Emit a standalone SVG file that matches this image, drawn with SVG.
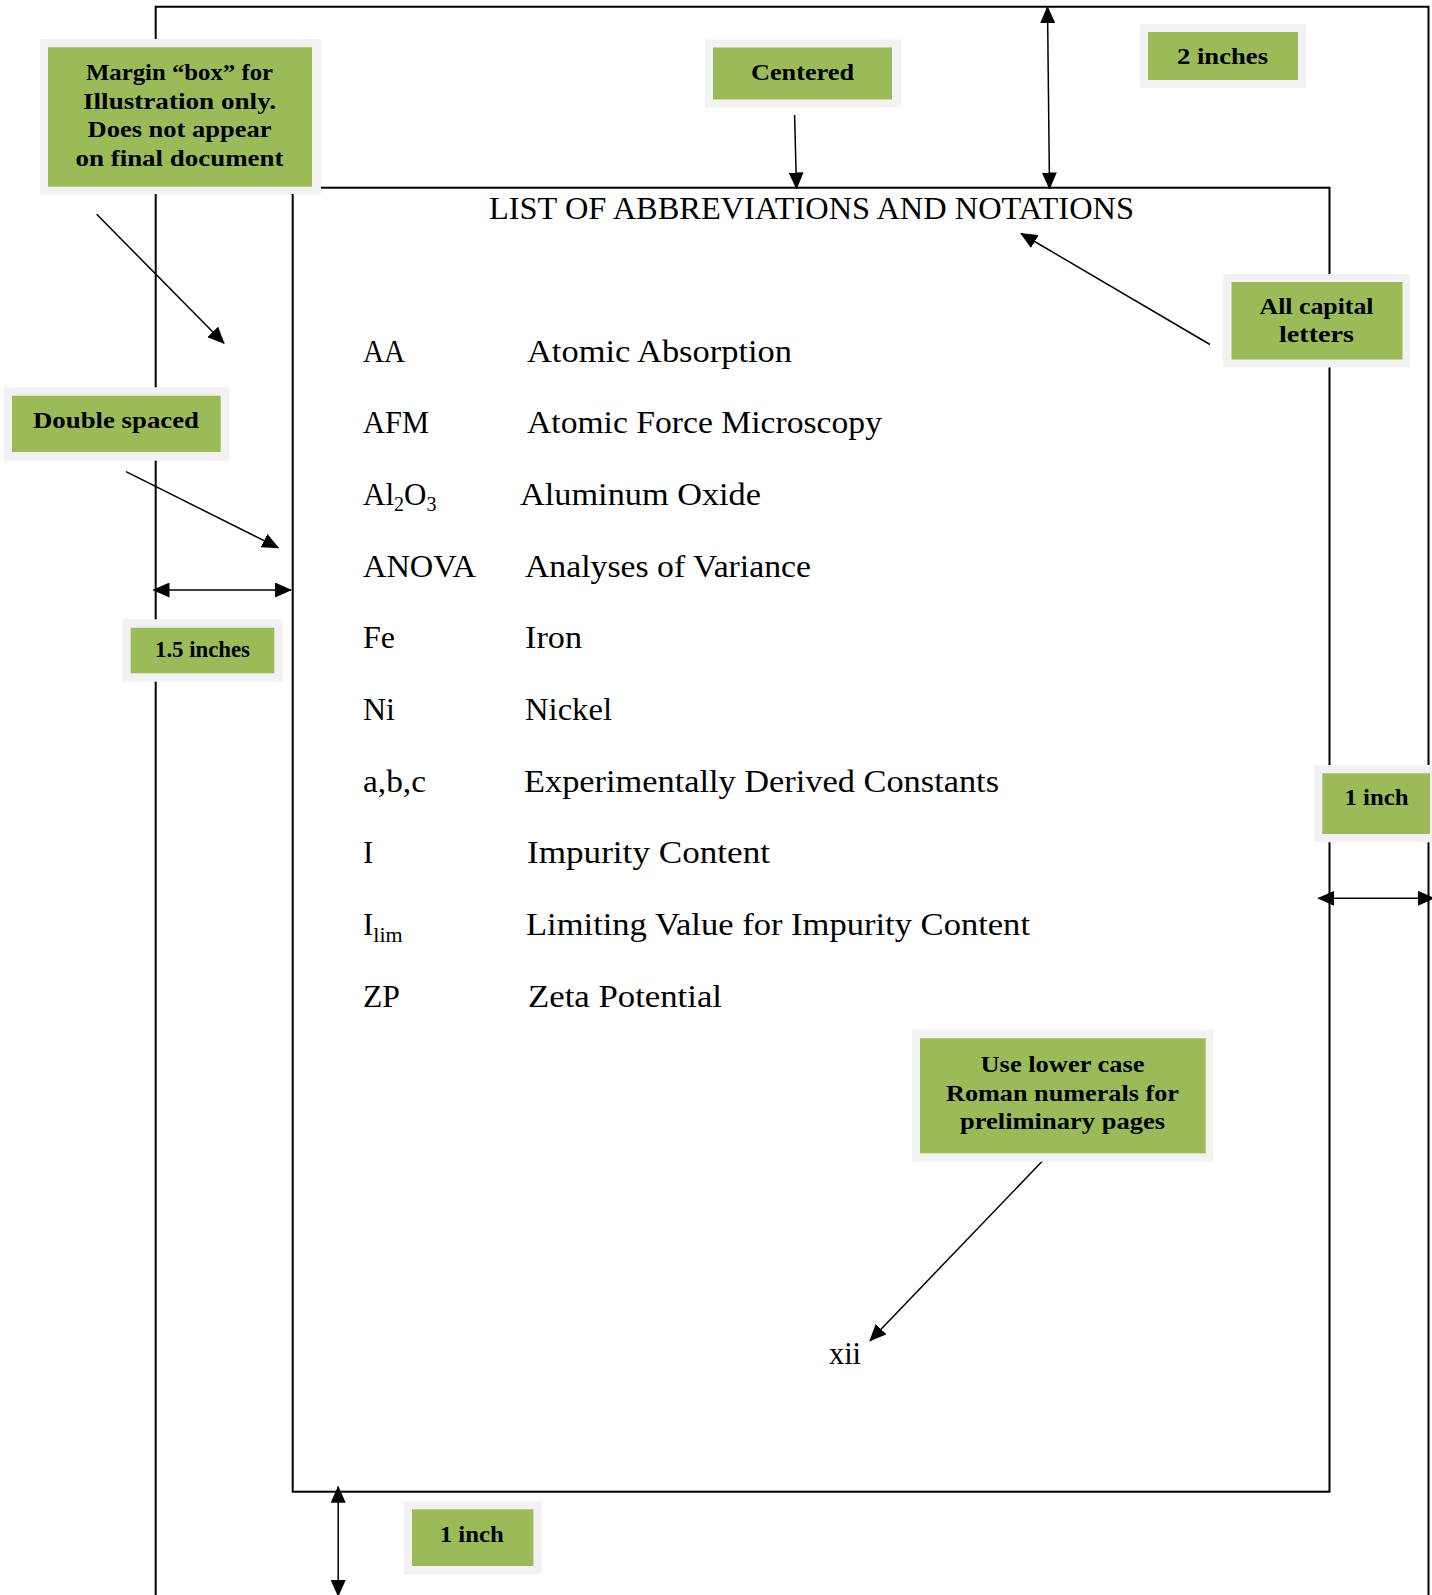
<svg xmlns="http://www.w3.org/2000/svg" width="1432" height="1595" viewBox="0 0 1432 1595">
<style>
.page{fill:none;stroke:#000;stroke-width:2}
.conn{fill:none;stroke:#000;stroke-width:1.5}
.halo{fill:#f2f2f2}
.box{fill:#9bbb59}
.lbl{font-family:"Liberation Serif",serif;font-weight:bold;font-size:24px;fill:#000;text-anchor:middle}
.body{font-family:"Liberation Serif",serif;font-size:31px;fill:#000}
</style>
<defs>
<marker id="ah" viewBox="0 0 17 15" refX="16" refY="7.5" markerWidth="17" markerHeight="15" markerUnits="userSpaceOnUse" orient="auto-start-reverse">
<path d="M0,0 L17,7.5 L0,15 Z" fill="#000"/>
</marker>
</defs>
<rect width="1432" height="1595" fill="#fff"/>
<g id="page-lines">
<path class="page" d="M155.7,1595 V6.7 H1428.5 V1595"/>
<rect class="page" x="292.7" y="187.7" width="1036.8" height="1304"/>
</g>
<g id="page-content">
<text class="body" x="489" y="219.3" font-size="32" textLength="645" lengthAdjust="spacingAndGlyphs">LIST OF ABBREVIATIONS AND NOTATIONS</text>
<text class="body" x="363" y="361.7" textLength="42" lengthAdjust="spacingAndGlyphs">AA</text>
<text class="body" x="527" y="361.7" textLength="265" lengthAdjust="spacingAndGlyphs">Atomic Absorption</text>
<text class="body" x="363" y="433.4" textLength="66" lengthAdjust="spacingAndGlyphs">AFM</text>
<text class="body" x="527" y="433.4" textLength="355" lengthAdjust="spacingAndGlyphs">Atomic Force Microscopy</text>
<text class="body" x="363" y="505">Al<tspan font-size="20" dy="6">2</tspan><tspan dy="-6">O</tspan><tspan font-size="20" dy="6">3</tspan></text>
<text class="body" x="520" y="505" textLength="241" lengthAdjust="spacingAndGlyphs">Aluminum Oxide</text>
<text class="body" x="363" y="576.7" textLength="113" lengthAdjust="spacingAndGlyphs">ANOVA</text>
<text class="body" x="525" y="576.7" textLength="286" lengthAdjust="spacingAndGlyphs">Analyses of Variance</text>
<text class="body" x="363" y="648.4" textLength="32" lengthAdjust="spacingAndGlyphs">Fe</text>
<text class="body" x="525" y="648.4" textLength="57" lengthAdjust="spacingAndGlyphs">Iron</text>
<text class="body" x="363" y="720" textLength="32" lengthAdjust="spacingAndGlyphs">Ni</text>
<text class="body" x="525" y="720" textLength="87" lengthAdjust="spacingAndGlyphs">Nickel</text>
<text class="body" x="363" y="791.7" textLength="63" lengthAdjust="spacingAndGlyphs">a,b,c</text>
<text class="body" x="524" y="791.7" textLength="475" lengthAdjust="spacingAndGlyphs">Experimentally Derived Constants</text>
<text class="body" x="363" y="863.4">I</text>
<text class="body" x="527" y="863.4" textLength="243" lengthAdjust="spacingAndGlyphs">Impurity Content</text>
<text class="body" x="363" y="935">I<tspan font-size="22" dy="7">lim</tspan></text>
<text class="body" x="526" y="935" textLength="504" lengthAdjust="spacingAndGlyphs">Limiting Value for Impurity Content</text>
<text class="body" x="363" y="1006.7" textLength="37" lengthAdjust="spacingAndGlyphs">ZP</text>
<text class="body" x="528" y="1006.7" textLength="194" lengthAdjust="spacingAndGlyphs">Zeta Potential</text>
<text class="body" x="829" y="1364" textLength="32" lengthAdjust="spacingAndGlyphs">xii</text>
</g>
<g id="connectors">
<line class="conn" x1="96.7" y1="214.3" x2="224" y2="343.3" marker-end="url(#ah)"/>
<line class="conn" x1="794.6" y1="115" x2="796.5" y2="188.5" marker-end="url(#ah)"/>
<line class="conn" x1="1047.5" y1="7" x2="1049.5" y2="188.5" marker-start="url(#ah)" marker-end="url(#ah)"/>
<line class="conn" x1="1210" y1="344.5" x2="1021" y2="233.5" marker-end="url(#ah)"/>
<line class="conn" x1="126" y1="471.7" x2="278.3" y2="547.7" marker-end="url(#ah)"/>
<line class="conn" x1="153.5" y1="590" x2="291" y2="590" marker-start="url(#ah)" marker-end="url(#ah)"/>
<line class="conn" x1="1318.3" y1="898.3" x2="1434" y2="898.3" marker-start="url(#ah)" marker-end="url(#ah)"/>
<line class="conn" x1="1046" y1="1157.3" x2="870" y2="1340.7" marker-end="url(#ah)"/>
<line class="conn" x1="338.2" y1="1486.7" x2="338.2" y2="1596" marker-start="url(#ah)" marker-end="url(#ah)"/>
</g>
<g id="note-margin">
<rect class="halo" x="40" y="39" width="281" height="155"/>
<rect class="box" x="48" y="47.3" width="264" height="139.4"/>
<text class="lbl" x="179.5" y="79.5" textLength="187" lengthAdjust="spacingAndGlyphs">Margin “box” for</text>
<text class="lbl" x="179.5" y="108.5" textLength="193" lengthAdjust="spacingAndGlyphs">Illustration only.</text>
<text class="lbl" x="179.5" y="137" textLength="184" lengthAdjust="spacingAndGlyphs">Does not appear</text>
<text class="lbl" x="179.5" y="165.5" textLength="208" lengthAdjust="spacingAndGlyphs">on final document</text>
</g>
<g id="note-centered">
<rect class="halo" x="705" y="39.5" width="196" height="68"/>
<rect class="box" x="713" y="47.5" width="179" height="52"/>
<text class="lbl" x="802.5" y="80" textLength="103" lengthAdjust="spacingAndGlyphs">Centered</text>
</g>
<g id="note-2inches">
<rect class="halo" x="1140" y="24" width="166" height="64"/>
<rect class="box" x="1148" y="32" width="150" height="48"/>
<text class="lbl" x="1222.5" y="63.5" textLength="91" lengthAdjust="spacingAndGlyphs">2 inches</text>
</g>
<g id="note-capitals">
<rect class="halo" x="1223" y="274" width="187" height="93.5"/>
<rect class="box" x="1231.5" y="282" width="171" height="77.5"/>
<text class="lbl" x="1316.5" y="313.5" textLength="114" lengthAdjust="spacingAndGlyphs">All capital</text>
<text class="lbl" x="1316.5" y="341.5" textLength="75" lengthAdjust="spacingAndGlyphs">letters</text>
</g>
<g id="note-double">
<rect class="halo" x="4" y="387.3" width="225" height="73.4"/>
<rect class="box" x="12" y="395.7" width="208.7" height="56.3"/>
<text class="lbl" x="116" y="428.3" textLength="166" lengthAdjust="spacingAndGlyphs">Double spaced</text>
</g>
<g id="note-15inches">
<rect class="halo" x="122.3" y="619.3" width="160.4" height="62.4"/>
<rect class="box" x="130.7" y="627.7" width="143.6" height="45.6"/>
<text class="lbl" x="202.5" y="657.3" font-size="22" textLength="95" lengthAdjust="spacingAndGlyphs">1.5 inches</text>
</g>
<g id="note-1inch-right">
<rect class="halo" x="1314" y="765" width="118" height="77.3"/>
<rect class="box" x="1322.3" y="773.3" width="107.7" height="60.7"/>
<text class="lbl" x="1376.5" y="805" textLength="64" lengthAdjust="spacingAndGlyphs">1 inch</text>
</g>
<g id="note-roman">
<rect class="halo" x="912" y="1030" width="301.3" height="131.7"/>
<rect class="box" x="920" y="1038.3" width="285.7" height="115"/>
<text class="lbl" x="1062.5" y="1071.7" textLength="164" lengthAdjust="spacingAndGlyphs">Use lower case</text>
<text class="lbl" x="1062.5" y="1101" textLength="233" lengthAdjust="spacingAndGlyphs">Roman numerals for</text>
<text class="lbl" x="1062.5" y="1129.3" textLength="205" lengthAdjust="spacingAndGlyphs">preliminary pages</text>
</g>
<g id="note-1inch-bottom">
<rect class="halo" x="404" y="1501" width="137.8" height="73.3"/>
<rect class="box" x="412" y="1509.3" width="121.4" height="56.7"/>
<text class="lbl" x="471.7" y="1541.7" textLength="64" lengthAdjust="spacingAndGlyphs">1 inch</text>
</g>
</svg>
